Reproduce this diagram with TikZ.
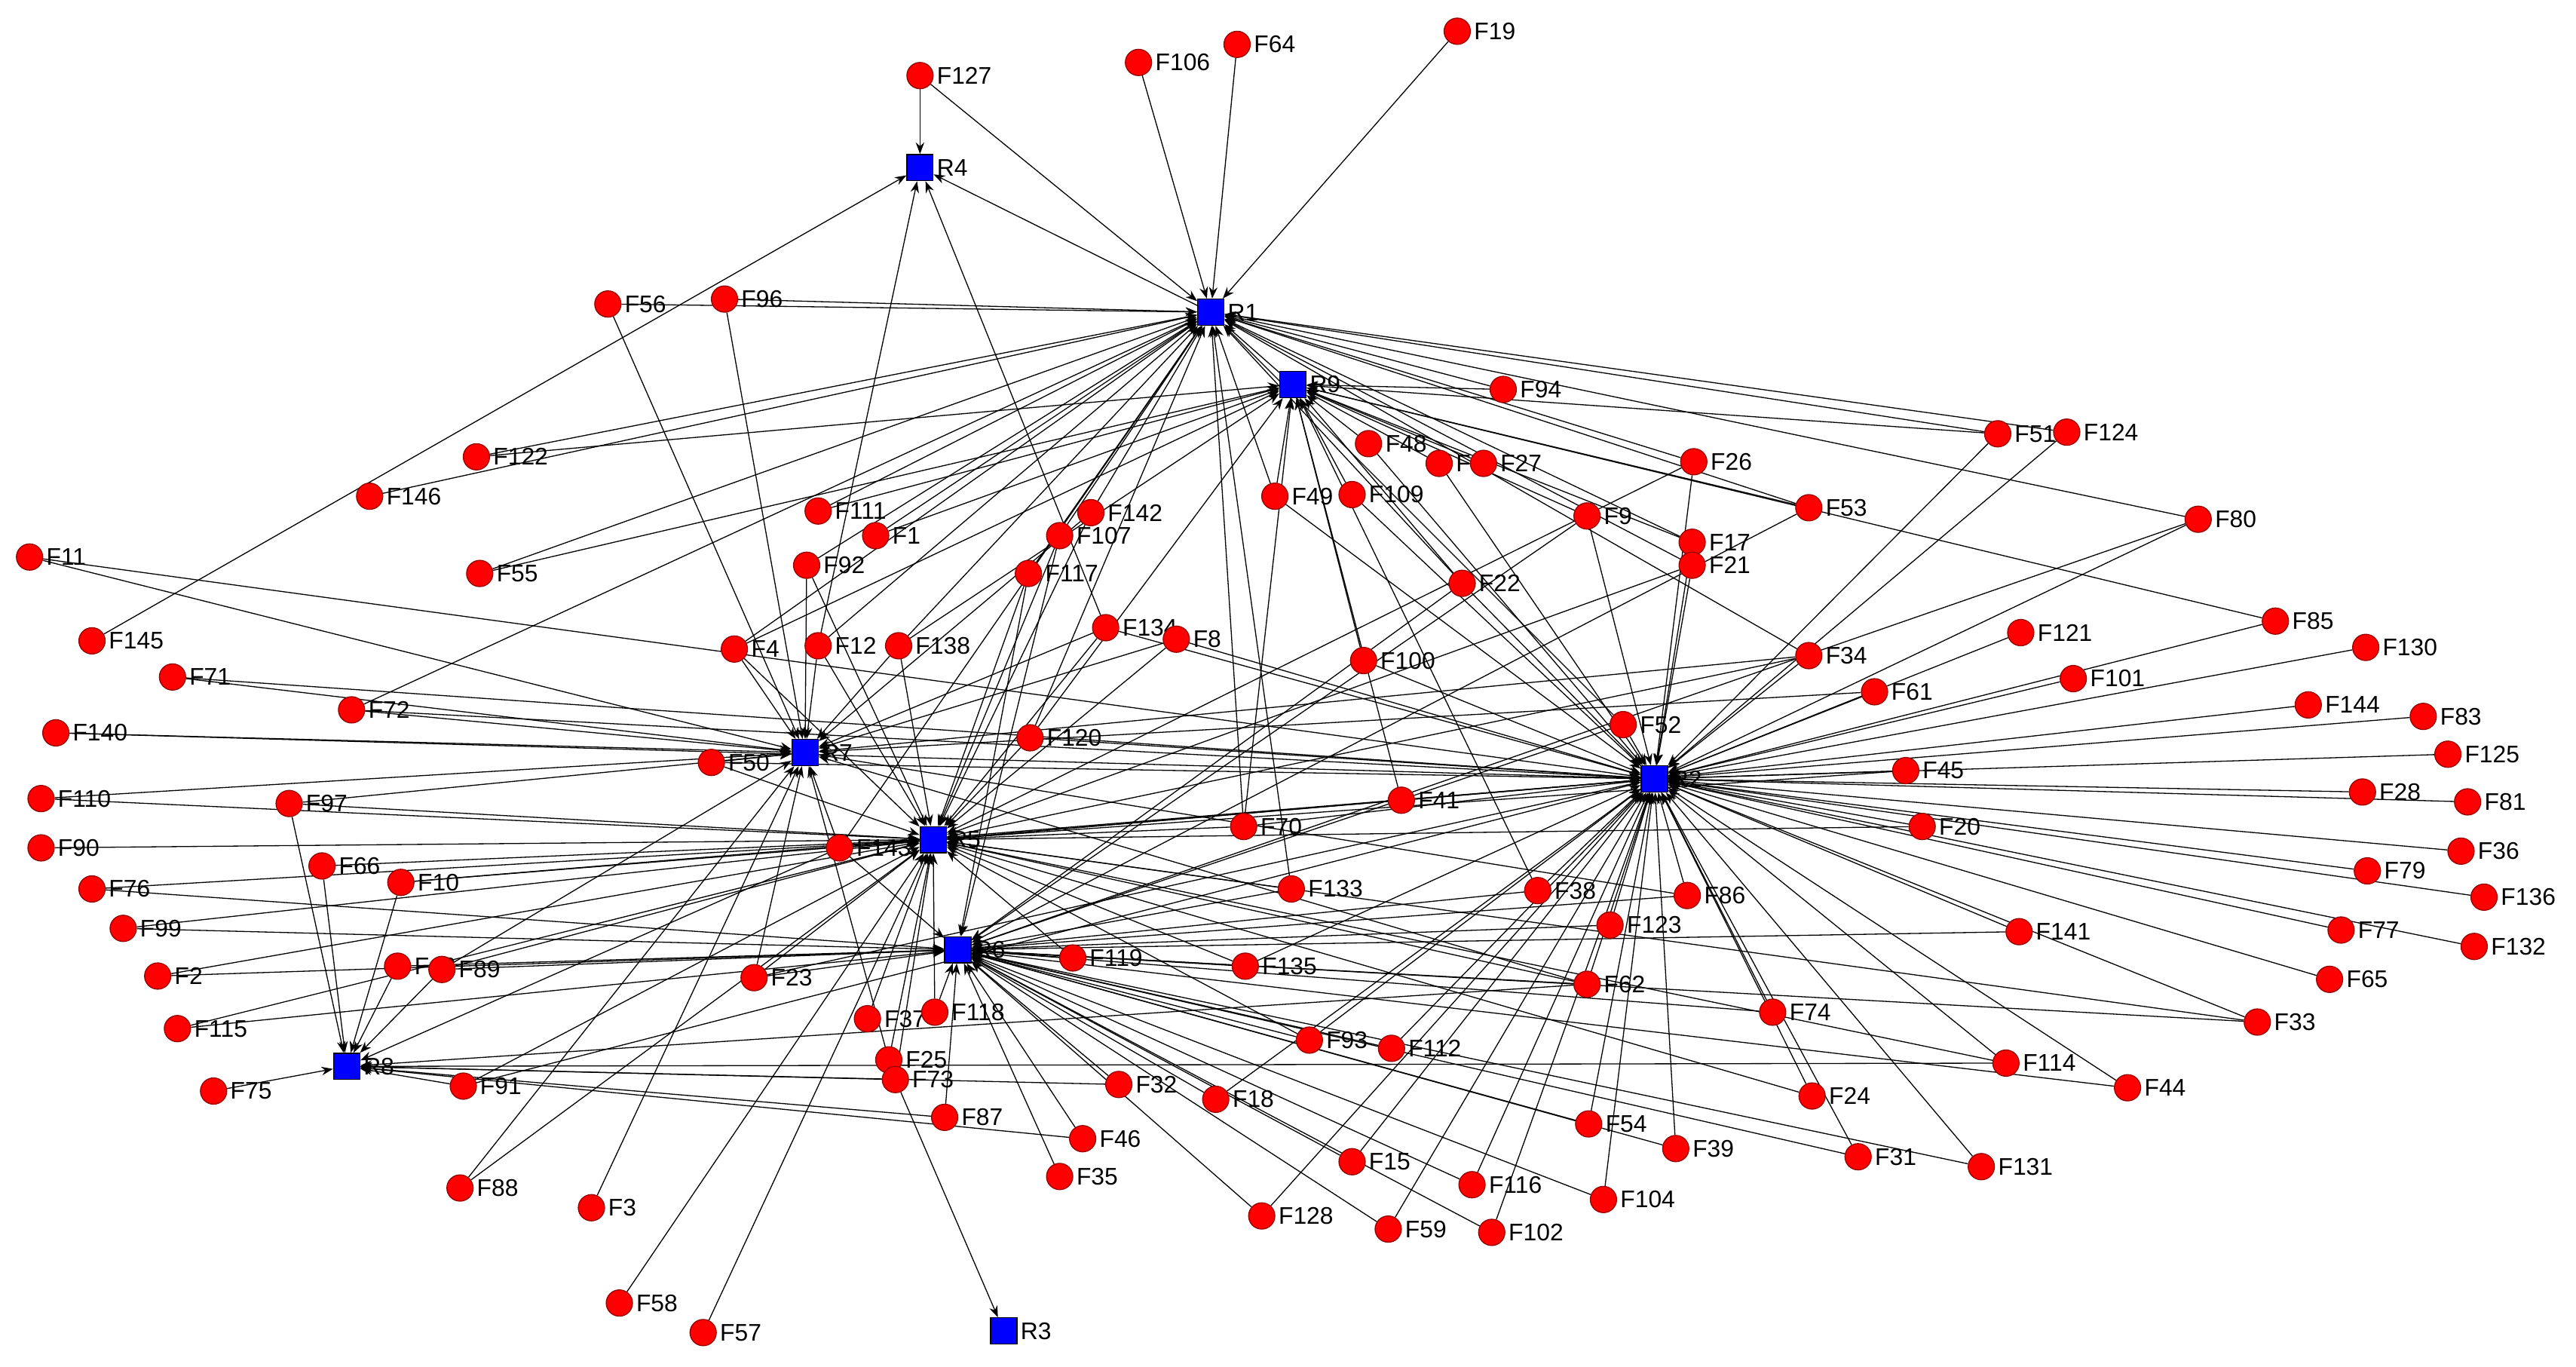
\documentclass[tikz,border=0pt]{standalone}
\usepackage{fontspec}
\setmainfont{Liberation Sans}
\usetikzlibrary{arrows.meta,backgrounds}
\definecolor{nred}{HTML}{FF0000}
\definecolor{nblue}{HTML}{0000FF}
\tikzset{
 fn/.style={circle,fill=nred,draw=red!60!black,line width=0.3pt,minimum size=8pt,inner sep=0pt},
 rn/.style={rectangle,fill=nblue,draw=black,line width=0.3pt,minimum size=8pt,inner sep=0pt},
 lab/.style={font=\fontsize{7.3}{8}\selectfont,inner sep=0.8pt},
 e/.style={line width=0.3pt,-{Stealth[length=3.5pt,width=2.6pt]}}
}
\begin{document}
\begin{tikzpicture}[x=0.5pt,y=-0.5pt]
\useasboundingbox (0,0) rectangle (1568,831.5);
\foreach \n/\x/\y in {R4/560/102,R1/737/190,R9/787/234,R7/490/458,R5/568/511,R6/583/578,R2/1007/474,R8/211/649,R3/611/810}
 \node[rn,label={[lab]right:\n}] (\n) at (\x,\y) {};
\foreach \n/\x/\y in {F127/560/46,F106/693/38,F64/753/27,F19/887/19,F56/370/185,F96/441/182,
F94/915/237,F51/1216/264,F124/1258/263,F80/1338/316,F48/833/270,F40/876/282,F27/903/282,F26/1031/281,
F53/1101/309,F9/966/314,F17/1030/330,F21/1030/344,F122/290/278,F146/225/302,F111/498/311,F1/533/326,
F142/664/312,F107/645/326,F49/776/302,F109/823/301,F11/18/339,F55/292/349,F92/491/344,F117/626/349,
F134/673/382,F8/716/389,F22/890/355,F145/56/390,F71/105/412,F4/447/395,F12/498/393,F138/547/393,
F100/830/402,F34/1101/399,F121/1230/385,F85/1385/378,F130/1440/394,F61/1141/421,F101/1262/413,
F140/34/446,F72/214/432,F50/433/464,F120/627/449,F52/988/441,F144/1405/429,F83/1475/436,F125/1490/459,
F45/1160/469,F110/25/486,F97/176/489,F41/853/487,F70/757/503,F28/1438/482,F81/1502/488,F20/1170/503,
F90/25/516,F66/196/527,F143/511/516,F36/1498/518,F79/1441/530,F76/56/541,F10/244/537,F133/786/541,
F38/936/542,F86/1027/545,F136/1512/546,F99/75/565,F123/980/563,F141/1229/567,F77/1425/566,F132/1506/576,
F2/96/594,F42/242/588,F89/269/590,F23/459/595,F119/653/583,F135/758/588,F62/966/599,F65/1418/596,
F115/108/626,F37/528/620,F118/569/616,F74/1079/616,F33/1374/622,F75/130/664,F91/282/661,F25/541/645,
F73/545/657,F93/797/633,F112/847/638,F114/1221/647,F44/1295/662,F32/681/660,F18/740/669,F24/1103/667,
F87/575/680,F46/659/693,F54/967/684,F39/1020/699,F31/1131/704,F131/1206/710,F35/645/716,F15/823/707,
F116/896/721,F88/280/723,F3/360/735,F128/768/740,F59/845/748,F102/908/750,F104/976/730,F58/377/793,F57/428/811}
 \node[fn,label={[lab]right:\n}] (\n) at (\x,\y) {};
\begin{scope}[on background layer]
\foreach \r/\l in {
R1/{F127,F106,F64,F19,F56,F96,F94,F51,F124,F80,F53,F26,F122,F146,F111,F1,F142,F107,F49,F92,F117,F22,F17,F21,F34,F52,F12,F138,F4,F55,F72,F143,F120,F70,F133,R9},
R9/{F48,F40,F27,F94,F51,F9,F53,F109,F49,F122,F55,F111,F1,F22,F100,F41,F38,F85,F17,F70,F120,F138,F4},
R7/{F56,F96,F11,F71,F140,F72,F50,F4,F12,F92,F138,F110,F97,F8,F134,F142,F61,F34,F86,F62,F23,F89,F3,F88,F25,F143},
R5/{F110,F90,F97,F66,F76,F10,F99,F2,F115,F89,F23,F143,F50,F4,F12,F138,F92,F117,F142,F107,F134,F8,F120,F70,F41,F133,F135,F93,F119,F118,F73,F25,F37,F58,F57,F88,F91,F24,F33,F114,F62,F45,F20,F34,F21,F26},
R6/{F2,F115,F99,F76,F42,F89,F23,F143,F119,F118,F32,F18,F15,F46,F35,F87,F128,F59,F116,F102,F93,F112,F74,F62,F123,F141,F86,F38,F133,F135,F54,F44,F33,F131,F31,F39,F104,F117,F107,F9,F22,F52,F53,F80},
R2/{F26,F17,F21,F9,F34,F121,F85,F130,F61,F101,F144,F83,F125,F45,F28,F81,F20,F36,F79,F136,F77,F132,F65,F141,F33,F114,F44,F131,F31,F24,F74,F39,F104,F54,F116,F102,F59,F15,F112,F128,F62,F123,F86,F38,F52,F41,F70,F100,F22,F40,F48,F109,F49,F143,F10,F71,F72,F140,F11,F23,F91,F135,F93,F18,F50,F120,F8,F134,F51,F124,F80},
R8/{F97,F66,F10,F42,F89,F91,F75,F143,F87,F73,F62,F32,F46,F114},
R4/{F127,F145,F12,F134,R1},
R3/{F73}}
{\foreach \f in \l {\draw[e] (\f) -- (\r);}}
\end{scope}
\end{tikzpicture}
\end{document}
